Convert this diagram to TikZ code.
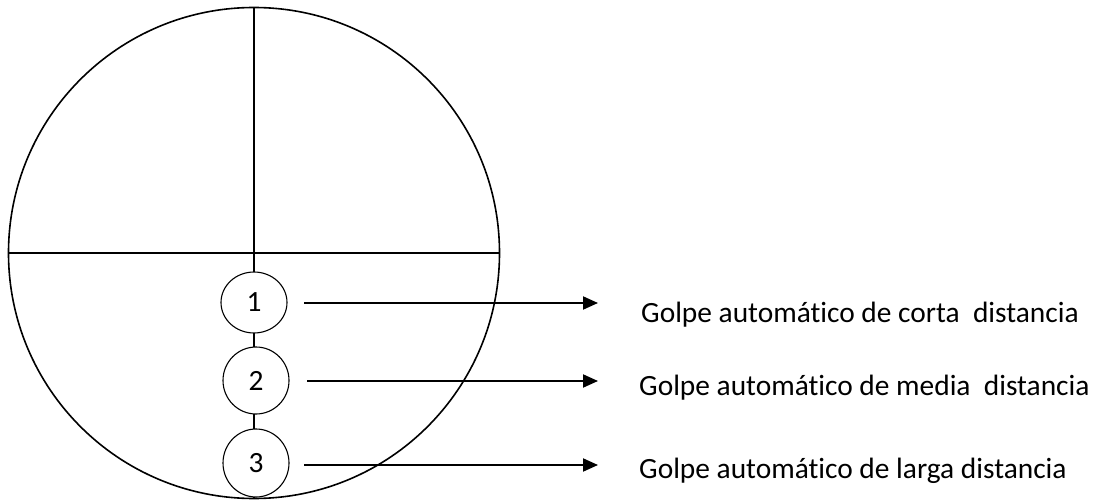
\documentclass[tikz,border=0pt]{standalone}
\usepackage{fontspec}
\setmainfont[Ligatures=NoCommon]{Carlito}
\usetikzlibrary{arrows.meta,shapes.geometric}
\tikzset{
  bigline/.style={line width=1.6pt},
  numcirc/.style={draw, ellipse, fill=white, line width=1.1pt, inner sep=0pt, font=\fontsize{29.4}{32}\selectfont},
  arr/.style={line width=2pt, -{Triangle[length=15pt,width=13pt]}},
  lbl/.style={anchor=base west, inner sep=0pt, font=\fontsize{29.4}{32}\selectfont}
}
\begin{document}
\begin{tikzpicture}[x=1pt,y=-1pt]
\useasboundingbox (0,0) rectangle (1096,500);
\coordinate (ctr) at (254,253);
\draw[bigline] (ctr) circle (245.5);
\coordinate (top) at (254,7.5);
\coordinate (bot) at (254,498.5);
\coordinate (lft) at (8.5,253);
\coordinate (rgt) at (499.5,253);
\draw[bigline] (lft) -- (rgt);
\draw[bigline] (top) -- (bot);
\node[numcirc, minimum width=66pt, minimum height=61pt] (c1) at (254,302.5) {1};
\node[numcirc, minimum width=66pt, minimum height=67pt] (c2) at (256,380.5) {2};
\node[numcirc, minimum width=66pt, minimum height=68pt] (c3) at (256,463) {3};
\coordinate (s1) at (304,303); \coordinate (e1) at (598,303);
\coordinate (s2) at (307,381); \coordinate (e2) at (598,381);
\coordinate (s3) at (304,465); \coordinate (e3) at (598,465);
\draw[arr] (s1) -- (e1);
\draw[arr] (s2) -- (e2);
\draw[arr] (s3) -- (e3);
\node[lbl] (t1) at (641,322) {Golpe automático de corta\ \ distancia};
\node[lbl] (t2) at (639,395) {Golpe automático de media\ \ distancia};
\node[lbl] (t3) at (639,478) {Golpe automático de larga distancia};
\end{tikzpicture}
\end{document}
